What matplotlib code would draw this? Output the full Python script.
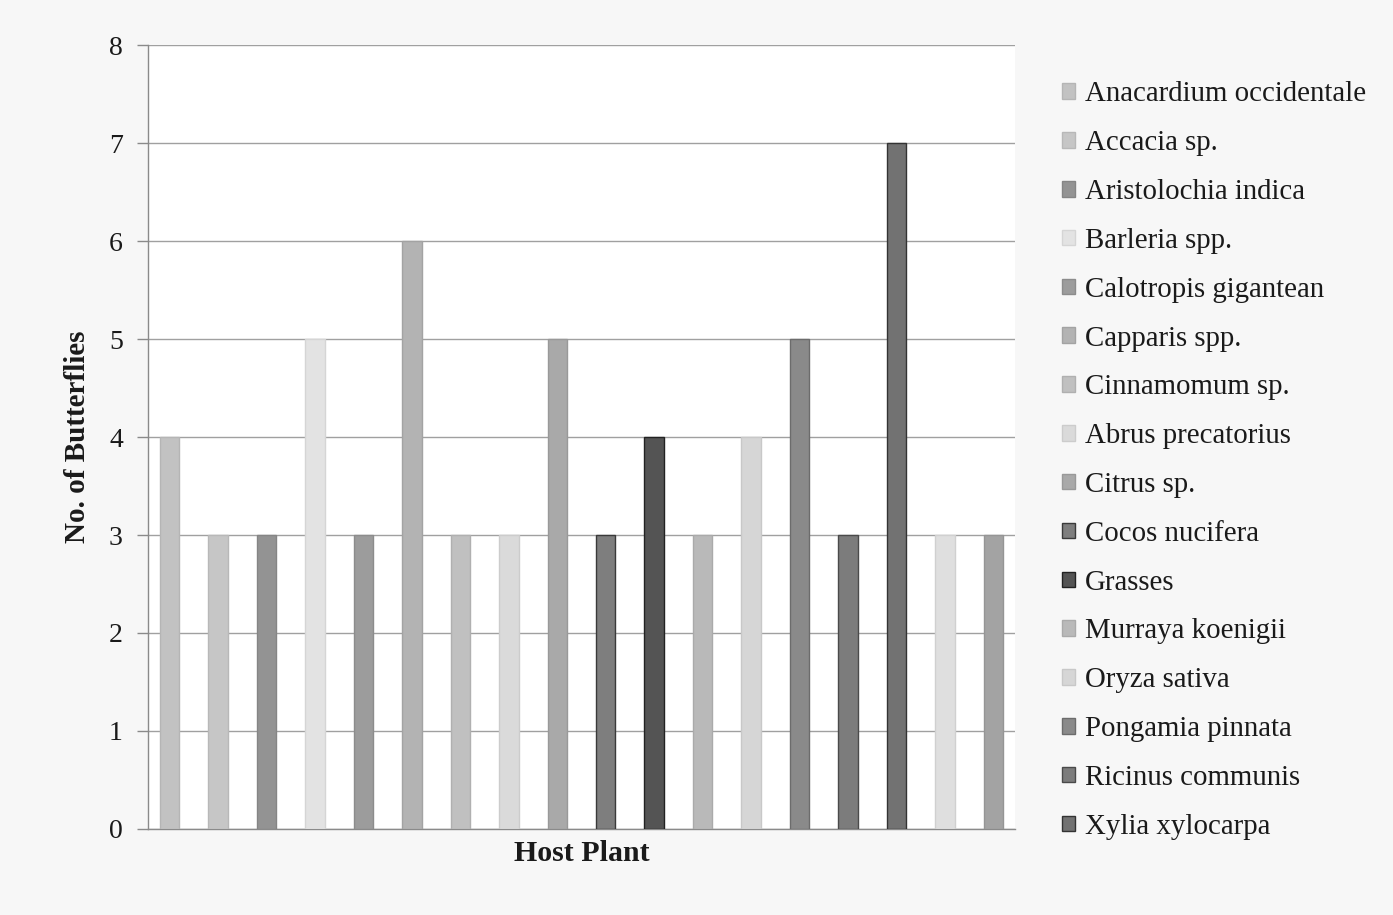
import matplotlib
matplotlib.use("Agg")
import matplotlib.pyplot as plt
import numpy as np

# Butterfly counts per host plant (one bar per plant)
butterfly_counts = [4, 3, 3, 5, 3, 6, 3, 3, 5, 3, 4, 3, 4, 5, 3, 7, 3, 3]

legend_labels = [
    "Anacardium occidentale", "Accacia sp.", "Aristolochia indica",
    "Barleria spp.", "Calotropis gigantean", "Capparis spp.",
    "Cinnamomum sp.", "Abrus precatorius", "Citrus sp.",
    "Cocos nucifera", "Grasses", "Murraya koenigii", "Oryza sativa",
    "Pongamia pinnata", "Ricinus communis", "Xylia xylocarpa",
]

bar_colors = [
    "#c2c2c2", "#c6c6c6", "#939393", "#e3e3e3", "#9c9c9c", "#b3b3b3",
    "#c0c0c0", "#dadada", "#a9a9a9", "#7e7e7e", "#545454", "#b9b9b9",
    "#d6d6d6", "#8a8a8a", "#7c7c7c", "#727272", "#dfdfdf", "#a3a3a3",
]
edge_colors = [
    "#b5b5b5", "#b8b8b8", "#858585", "#d5d5d5", "#8c8c8c", "#a3a3a3",
    "#b0b0b0", "#cccccc", "#999999", "#3a3a3a", "#222222", "#aaaaaa",
    "#c8c8c8", "#6c6c6c", "#4a4a4a", "#333333", "#d0d0d0", "#959595",
]

serif = ["Liberation Serif", "DejaVu Serif"]
plt.rcParams["font.family"] = serif

fig = plt.figure(figsize=(13.93, 9.15), dpi=100, facecolor="#f7f7f7")
ax = fig.add_axes([0.1062, 0.094, 0.6225, 0.8568])
ax.set_facecolor("white")

x = np.arange(len(butterfly_counts))
for i, (val, fc, ec) in enumerate(zip(butterfly_counts, bar_colors, edge_colors)):
    lab = legend_labels[i] if i < len(legend_labels) else "_nolegend_"
    ax.bar(x[i], val, width=0.4, color=fc, edgecolor=ec, linewidth=1.0,
           label=lab, zorder=3)

ax.set_xlim(-0.45, len(butterfly_counts) - 0.55)
ax.set_ylim(0, 8)
ax.set_yticks(range(0, 9))
ax.set_xticks([])
ax.yaxis.grid(True, color="#a0a0a0", linewidth=1.0, zorder=0)

for side in ("top", "right"):
    ax.spines[side].set_visible(False)
ax.spines["left"].set_color("#8a8a8a")
ax.spines["bottom"].set_color("#8a8a8a")
ax.spines["left"].set_linewidth(1.0)
ax.spines["bottom"].set_linewidth(1.0)
ax.tick_params(axis="y", length=8, width=1.0, color="#8a8a8a",
               labelsize=20, labelcolor="#1a1a1a", pad=10)

ax.set_ylabel("No. of Butterflies", fontsize=21, fontweight="bold",
              color="#1a1a1a", labelpad=13)
ax.set_xlabel("Host Plant", fontsize=21.5, fontweight="bold",
              color="#1a1a1a", labelpad=8)

leg = fig.legend(loc="upper left", bbox_to_anchor=(0.7624, 0.911),
                 frameon=False, fontsize=20.8, handlelength=0.45,
                 handleheight=0.45, handletextpad=0.35, labelspacing=0.79,
                 borderpad=0, borderaxespad=0)
for t in leg.get_texts():
    t.set_color("#1a1a1a")

fig.savefig("out.png", dpi=100, facecolor=fig.get_facecolor())
